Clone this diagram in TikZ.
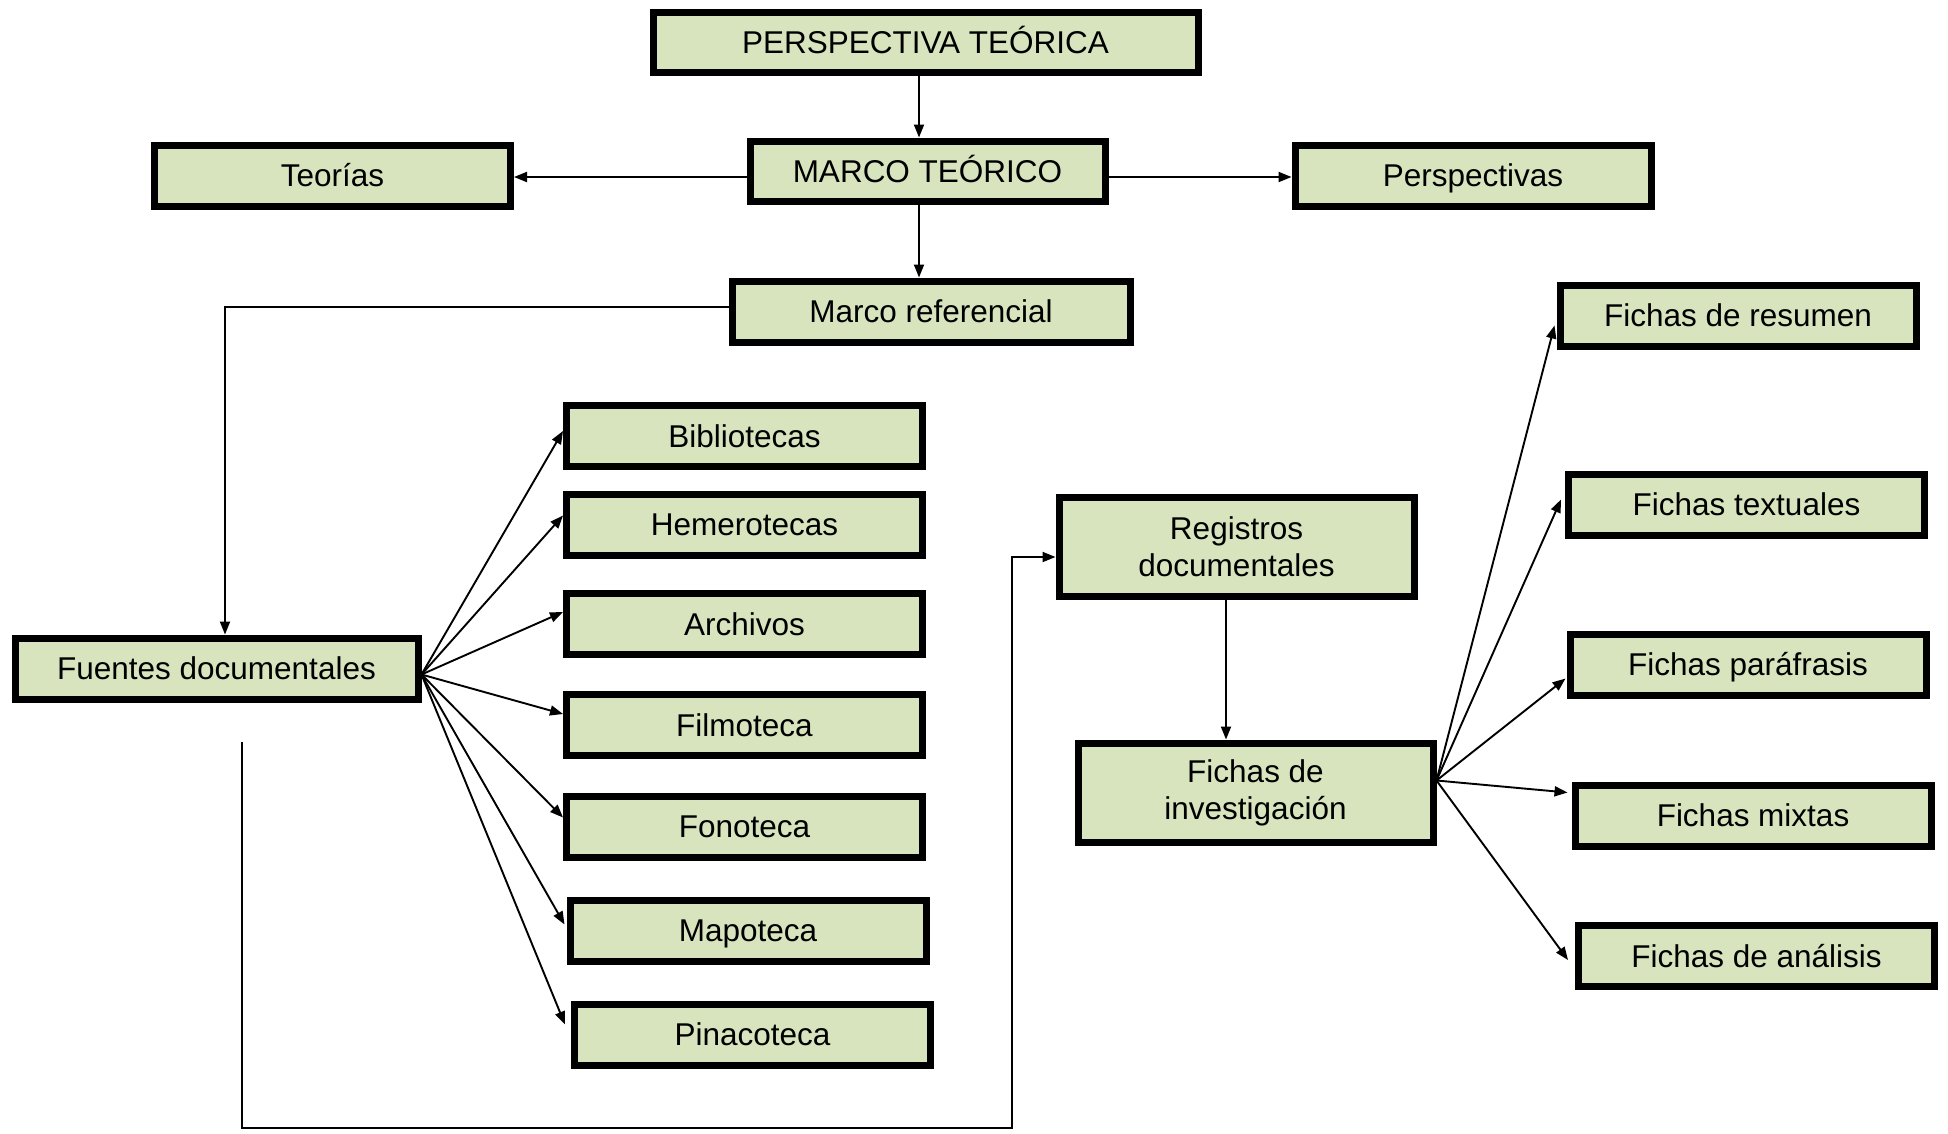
\documentclass[tikz,border=0pt]{standalone}
\usepackage{fontspec}
\setmainfont{Liberation Sans}
\usetikzlibrary{arrows.meta,calc}
\definecolor{boxgreen}{HTML}{D7E4BD}
\tikzset{
  boxbase/.style={draw=black, fill=boxgreen, line width=7pt, minimum width=356pt, minimum height=61pt,
    inner sep=0pt, align=center, font=\fontsize{31.5}{37}\selectfont},
  box/.style={boxbase, text height=23pt, text depth=1pt},
  tbox/.style={boxbase, minimum width=355pt, minimum height=99pt},
  arr/.style={line width=1.9pt, -{Triangle[length=13pt,width=10pt]}}
}
\begin{document}
\begin{tikzpicture}[x=1pt,y=-1pt]
\useasboundingbox (0,0) rectangle (1948,1133);
% nodes
\node[box, minimum width=545pt, minimum height=60pt] (pt) at (925.5,42) {PERSPECTIVA TEÓRICA};
\node[box, minimum width=355pt, minimum height=60pt] (mt) at (927.5,171) {MARCO TEÓRICO};
\node[box] (teo) at (332.5,175.5) {Teorías};
\node[box] (per) at (1473,175.5) {Perspectivas};
\node[box, minimum width=398pt] (mr) at (931,311.5) {Marco referencial};
\node[box, minimum width=403pt] (fd) at (216.5,668.5) {Fuentes documentales};
\node[box] (bib) at (744.5,436) {Bibliotecas};
\node[box] (hem) at (744.5,524.5) {Hemerotecas};
\node[box] (arc) at (744.5,624) {Archivos};
\node[box] (fil) at (744.5,725) {Filmoteca};
\node[box] (fon) at (744.5,826.5) {Fonoteca};
\node[box] (map) at (748,930.5) {Mapoteca};
\node[box] (pin) at (752.5,1034.5) {Pinacoteca};
\node[tbox] (reg) at (1236.5,546.5) {Registros\\documentales};
\node[tbox] (fi) at (1255.5,792.5) {Fichas de\\investigación};
\node[box] (fr) at (1738,315.5) {Fichas de resumen};
\node[box] (ft) at (1746.5,504.5) {Fichas textuales};
\node[box] (fp) at (1748,664.5) {Fichas paráfrasis};
\node[box] (fm) at (1753,815.5) {Fichas mixtas};
\node[box] (fa) at (1756.5,956) {Fichas de análisis};
% top connectors
\draw[arr] ([xshift=-6.5pt]pt.south) -- ([xshift=-6.5pt]pt.south |- mt.north);
\draw[arr] ([yshift=-6pt]mt.west) -- ([yshift=-6pt]mt.west -| teo.east);
\draw[arr] ([yshift=-6pt]mt.east) -- ([yshift=-6pt]mt.east -| per.west);
\draw[arr] ([xshift=-8.5pt]mt.south) -- ([xshift=-8.5pt]mt.south |- mr.north);
\draw[arr] ([yshift=4.5pt]mr.west) -| ([xshift=8.5pt]fd.north);
% left fan
\coordinate (fo) at ([yshift=-6pt]fd.east);
\draw[arr] (fo) -- ([yshift=5pt]bib.west);
\draw[arr] (fo) -- ([yshift=9pt]hem.west);
\draw[arr] (fo) -- ([yshift=12pt]arc.west);
\draw[arr] (fo) -- ([yshift=11pt]fil.west);
\draw[arr] (fo) -- ([yshift=9pt]fon.west);
\draw[arr] (fo) -- ([yshift=6pt,xshift=-2pt]map.west);
\draw[arr] (fo) -- ([yshift=10pt,xshift=-6pt]pin.west);
% bottom loop to registros
\coordinate (fs) at (242,742);
\coordinate (cb) at (1012,1128);
\draw[arr] (fs) |- (cb) |- ([yshift=-10.5pt]reg.west);
% registros to fichas
\draw[arr] ([xshift=-10.5pt]reg.south) -- ([xshift=-10.5pt]reg.south |- fi.north);
% right fan
\coordinate (fio) at ([yshift=12pt]fi.east);
\draw[arr] (fio) -- ([yshift=-10pt,xshift=-2pt]fr.west);
\draw[arr] (fio) -- ([yshift=5pt,xshift=-4pt]ft.west);
\draw[arr] (fio) -- ([yshift=-14pt,xshift=-1pt]fp.west);
\draw[arr] (fio) -- ([yshift=23pt,xshift=-4pt]fm.west);
\draw[arr] (fio) -- ([yshift=-4pt,xshift=-7pt]fa.west);
\end{tikzpicture}
\end{document}
